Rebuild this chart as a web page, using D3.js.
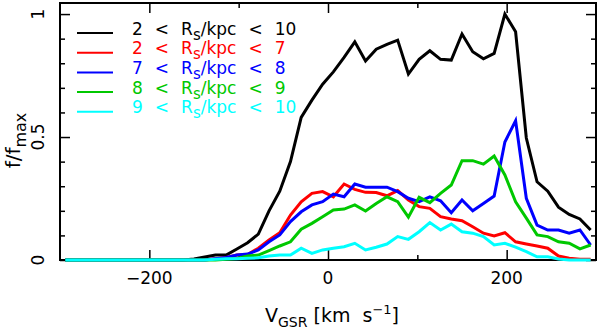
<!DOCTYPE html>
<html>
<head>
<meta charset="utf-8">
<script src="https://cdn.jsdelivr.net/npm/d3@7"></script>
<style>
  body { margin: 0; background: #fff; }
  text { font-family: "DejaVu Sans", sans-serif; }
</style>
</head>
<body>
<div id="vis1"></div>
<script>
// frame
const FRAME_WIDTH = 598;
const FRAME_HEIGHT = 332;
const MARGINS = {left: 60, right: 2, top: 3, bottom: 72};

// bin centres (km/s)
const VEL = [-294, -282, -270, -258, -246, -234, -222, -210, -198, -186,
             -174, -162, -150, -138, -126, -114, -102, -90, -78, -66,
             -54, -42, -30, -18, -6, 6, 18, 30, 42, 54,
             66, 78, 90, 102, 114, 126, 138, 150, 162, 174,
             186, 198, 210, 222, 234, 246, 258, 270, 282, 294];

// f/fmax per bin
const ALL_2_10 = [0,0,0,0,0,0,0,0,0,0,0,0,0.004,0.012,0.02,0.02,0.045,0.07,0.105,0.2,
                  0.28,0.40,0.58,0.65,0.715,0.765,0.824,0.887,0.809,0.857,
                  0.877,0.894,0.756,0.816,0.851,0.816,0.813,0.919,0.847,0.818,
                  0.84,1.0,0.928,0.496,0.318,0.28,0.215,0.185,0.167,0.122];
const R_2_7 = [0,0,0,0,0,0,0,0,0,0,0,0,0,0,0.005,0.01,0.02,0.022,0.048,0.081,
               0.111,0.183,0.237,0.271,0.278,0.257,0.309,0.287,0.275,0.274,
               0.261,0.282,0.244,0.217,0.21,0.176,0.167,0.16,0.135,0.109,
               0.098,0.111,0.074,0.065,0.057,0.048,0.016,0.007,0.003,0.003];
const R_7_8 = [0,0,0,0,0,0,0,0,0,0,0,0,0,0,0.005,0.01,0.02,0.024,0.041,0.074,
               0.102,0.156,0.196,0.224,0.237,0.268,0.257,0.309,0.296,0.296,
               0.296,0.278,0.251,0.237,0.257,0.241,0.192,0.244,0.2,0.23,
               0.26,0.48,0.566,0.251,0.142,0.122,0.122,0.109,0.122,0.061];
const R_8_9 = [0,0,0,0,0,0,0,0,0,0,0,0,0,0,0,0.003,0.006,0.016,0.02,0.038,
               0.057,0.074,0.125,0.149,0.176,0.203,0.207,0.224,0.199,0.23,
               0.257,0.237,0.174,0.255,0.233,0.271,0.305,0.404,0.404,0.39,
               0.423,0.346,0.237,0.17,0.102,0.095,0.074,0.068,0.045,0.061];
const R_9_10 = [0,0,0,0,0,0,0,0,0,0,0,0,0,0,0.003,0.005,0.005,0.007,0.009,0.016,
                0.02,0.02,0.048,0.027,0.041,0.048,0.054,0.068,0.041,0.052,
                0.065,0.095,0.084,0.115,0.152,0.122,0.146,0.115,0.109,0.095,
                0.061,0.068,0.052,0.034,0.013,0.013,0.004,0,0,0];

const SERIES = [ALL_2_10, R_2_7, R_7_8, R_8_9, R_9_10];
const LOW = ["2", "2", "7", "8", "9"];
const HIGH = ["10", "7", "8", "9", "10"];
const COLORS = ["#000000", "#ff0000", "#0000ff", "#00c800", "#00ffff"];

// tick values
const X_MAJOR = [-200, 0, 200];
const X_MINOR = [-100, 100];
const X_LABELS = ["\u2212200", "0", "200"];
const Y_MAJOR = [0, 0.5, 1];
const Y_MINOR = [0.1, 0.2, 0.3, 0.4, 0.6, 0.7, 0.8, 0.9];
const Y_LABELS = ["0", "0.5", "1"];

const VIS_WIDTH = FRAME_WIDTH - MARGINS.left - MARGINS.right;
const VIS_HEIGHT = FRAME_HEIGHT - MARGINS.top - MARGINS.bottom;

const FRAME1 = d3.select("#vis1")
  .append("svg")
    .attr("width", FRAME_WIDTH)
    .attr("height", FRAME_HEIGHT);

const X_SCALE = d3.scaleLinear().domain([-300, 300]).range([MARGINS.left, MARGINS.left + VIS_WIDTH]);
const Y_SCALE = d3.scaleLinear().domain([0, 1.045]).range([MARGINS.top + VIS_HEIGHT, MARGINS.top]);

const BOTTOM = MARGINS.top + VIS_HEIGHT;
const RIGHT = MARGINS.left + VIS_WIDTH;

// inward ticks on all four sides
function addTicks(axisFn, scale, values, size, transform) {
  FRAME1.append("g")
    .attr("transform", transform)
    .call(axisFn(scale).tickValues(values).tickSize(-size).tickFormat(""))
    .call(g => g.select(".domain").remove())
    .selectAll("line").attr("stroke", "#000").attr("stroke-width", 1.5);
}
addTicks(d3.axisBottom, X_SCALE, X_MAJOR, 10, `translate(0,${BOTTOM})`);
addTicks(d3.axisBottom, X_SCALE, X_MINOR, 5, `translate(0,${BOTTOM})`);
addTicks(d3.axisTop, X_SCALE, X_MAJOR, 10, `translate(0,${MARGINS.top})`);
addTicks(d3.axisTop, X_SCALE, X_MINOR, 5, `translate(0,${MARGINS.top})`);
addTicks(d3.axisLeft, Y_SCALE, Y_MAJOR, 10, `translate(${MARGINS.left},0)`);
addTicks(d3.axisLeft, Y_SCALE, Y_MINOR, 5, `translate(${MARGINS.left},0)`);
addTicks(d3.axisRight, Y_SCALE, Y_MAJOR, 10, `translate(${RIGHT},0)`);
addTicks(d3.axisRight, Y_SCALE, Y_MINOR, 5, `translate(${RIGHT},0)`);

// box
FRAME1.append("rect")
  .attr("x", MARGINS.left).attr("y", MARGINS.top)
  .attr("width", VIS_WIDTH).attr("height", VIS_HEIGHT)
  .attr("fill", "none").attr("stroke", "#000").attr("stroke-width", 2);

// tick labels
FRAME1.selectAll(".xlab")
  .data(X_MAJOR)
  .enter().append("text")
    .attr("x", d => X_SCALE(d))
    .attr("y", BOTTOM + 24)
    .attr("text-anchor", "middle")
    .attr("font-size", "17px")
    .text((d, i) => X_LABELS[i]);

FRAME1.selectAll(".ylab")
  .data(Y_MAJOR)
  .enter().append("text")
    .attr("transform", d => `translate(${MARGINS.left - 16},${Y_SCALE(d)}) rotate(-90)`)
    .attr("text-anchor", "middle")
    .attr("font-size", "17px")
    .text((d, i) => Y_LABELS[i]);

// axis titles
const XT = FRAME1.append("text")
  .attr("x", 332).attr("y", 322)
  .attr("text-anchor", "middle")
  .attr("font-size", "19px")
  .attr("xml:space", "preserve");
XT.append("tspan").text("V");
XT.append("tspan").attr("font-size", "14px").attr("dy", 5).text("GSR");
XT.append("tspan").attr("dy", -5).text(" [km  s");
XT.append("tspan").attr("font-size", "13px").attr("dy", -8).text("\u22121");
XT.append("tspan").attr("dy", 8).text("]");

const YT = FRAME1.append("text")
  .attr("transform", `translate(20,${(MARGINS.top + BOTTOM) / 2 + 9}) rotate(-90)`)
  .attr("text-anchor", "middle")
  .attr("font-size", "20px");
YT.append("tspan").text("f/f");
YT.append("tspan").attr("font-size", "16px").attr("dy", 6).text("max");

// curves
const LINE = d3.line()
  .x((d, i) => X_SCALE(VEL[i]))
  .y(d => Y_SCALE(d));

FRAME1.selectAll(".curve")
  .data(SERIES)
  .enter().append("path")
    .attr("d", d => LINE(d))
    .attr("fill", "none")
    .attr("stroke", (d, i) => COLORS[i])
    .attr("stroke-width", 3);

// legend
const LEG_Y0 = 33, LEG_DY = 19.7, GAP = 12;
SERIES.forEach((s, i) => {
  const y = LEG_Y0 + i * LEG_DY;
  FRAME1.append("line")
    .attr("x1", 77).attr("x2", 113)
    .attr("y1", y).attr("y2", y)
    .attr("stroke", COLORS[i]).attr("stroke-width", 2);
  const t = FRAME1.append("text")
    .attr("x", 132).attr("y", y + 1.5)
    .attr("font-size", "17px")
    .attr("fill", COLORS[i]);
  t.append("tspan").text(LOW[i]);
  t.append("tspan").attr("dx", GAP).text("<");
  t.append("tspan").attr("dx", GAP).text("R");
  t.append("tspan").attr("font-size", "15px").attr("dy", 5).text("s");
  t.append("tspan").attr("dy", -5).text("/kpc");
  t.append("tspan").attr("dx", GAP).text("<");
  t.append("tspan").attr("dx", GAP).text(HIGH[i]);
});
</script>
</body>
</html>
